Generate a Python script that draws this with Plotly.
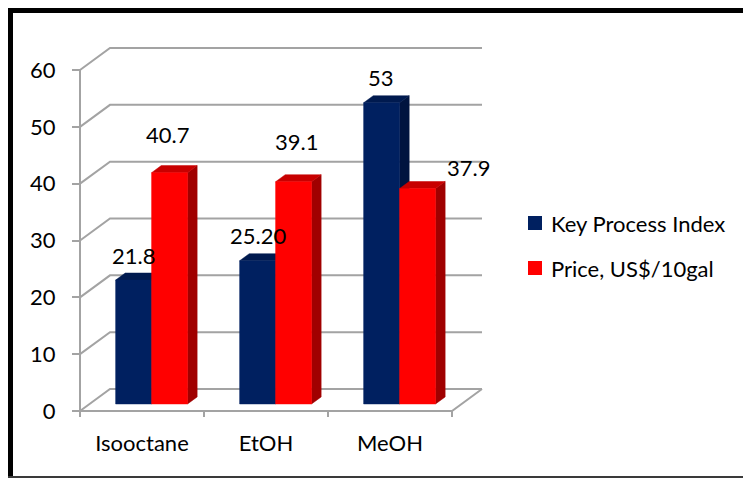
import plotly.graph_objects as go

# ---------------- data ----------------
categories = ["Isooctane", "EtOH", "MeOH"]
series_names = ["Key Process Index", "Price, US$/10gal"]
key_process_index = [21.8, 25.2, 53]
price = [40.7, 39.1, 37.9]
kpi_labels = ["21.8", "25.20", "53"]
price_labels = ["40.7", "39.1", "37.9"]
y_ticks = [0, 10, 20, 30, 40, 50, 60]

# ---------------- styles / layout ----------------
W, H = 743, 479
FONT = "Lato"
FS = 22
GRID = "#A3A3A3"
front_cols = ["#002060", "#FF0000"]
top_cols = ["#001A4F", "#C80000"]
side_cols = ["#00143F", "#A00000"]

PX_L, PX_R, PX_T, PX_B = 40, 500, 30, 430   # plot area in pixels
X0_PX, XUNIT = 80, 124                      # front plane: category 0 at x=80px, 124 px per category
Y0_PX, YUNIT = 411, 5.683                   # front plane: value 0 at y=411px
x_range = [(PX_L - X0_PX) / XUNIT, (PX_R - X0_PX) / XUNIT]
y_range = [(Y0_PX - PX_B) / YUNIT, (Y0_PX - PX_T) / YUNIT]

DX = 30 / XUNIT          # full wall depth (x component, data units)
DY = 22 / YUNIT          # full wall depth (y component, data units)
F1, F2 = 0.32, 0.64      # bar front / back depth fractions
BAR_W = 0.29
N = len(categories)
YMAX = y_ticks[-1]

fig = go.Figure()

# ---- walls / grid ----
gx, gy = [], []
for t in y_ticks:
    gx += [0, DX, N + DX, None]
    gy += [t, t + DY, t + DY, None]
gx += [0, 0, None, 0, N, N + DX, None]
gy += [0, YMAX, None, 0, 0, DY, None]
tick_len = 6 / YUNIT
for i in range(N + 1):
    gx += [i, i, None]
    gy += [0, -tick_len, None]
fig.add_trace(go.Scatter(x=gx, y=gy, mode="lines", line=dict(color=GRID, width=2),
                         hoverinfo="skip", showlegend=False))

# ---- 3D bars ----
b1, b2 = F1 * DY, F2 * DY
ddx = (F2 - F1) * DX
for s, vals in enumerate([key_process_index, price]):
    sx, sy, tx, ty, fx, fy = [], [], [], [], [], []
    for i, v in enumerate(vals):
        xl = i + 0.5 - BAR_W + s * BAR_W + F1 * DX
        xr = xl + BAR_W
        top = v + b1
        sx += [xr, xr, xr + ddx, xr + ddx, xr, None]
        sy += [b1, top, v + b2, b2, b1, None]
        tx += [xl, xr, xr + ddx, xl + ddx, xl, None]
        ty += [top, top, v + b2, v + b2, top, None]
        fx += [xl, xr, xr, xl, xl, None]
        fy += [b1, b1, top, top, b1, None]
    for px_, py_, c in [(sx, sy, side_cols[s]), (tx, ty, top_cols[s]), (fx, fy, front_cols[s])]:
        fig.add_trace(go.Scatter(x=px_, y=py_, mode="lines", fill="toself", fillcolor=c,
                                 line=dict(color=c, width=0.5), hoverinfo="skip",
                                 showlegend=False, name=series_names[s]))

# ---- data labels ----
label_dx = [[0, 0, -1], [-2, 3, 51]]
label_dy = [[25, 25, 25], [38, 40, 21]]
annotations = []
for s, (vals, labs) in enumerate([(key_process_index, kpi_labels), (price, price_labels)]):
    for i, (v, lab) in enumerate(zip(vals, labs)):
        xc = i + 0.5 - BAR_W / 2 + s * BAR_W + F1 * DX
        annotations.append(dict(x=xc, y=v + b1, xref="x", yref="y", text=lab, showarrow=False,
                                xanchor="center", yanchor="middle",
                                xshift=label_dx[s][i], yshift=label_dy[s][i],
                                font=dict(family=FONT, size=FS, color="black")))

# ---- legend (manual) ----
shapes = []
leg_y = [223, 268]
for s, name in enumerate(series_names):
    yc = leg_y[s]
    shapes.append(dict(type="rect", xref="paper", yref="paper",
                       x0=528 / W, x1=542 / W, y0=1 - (yc + 7) / H, y1=1 - (yc - 7) / H,
                       fillcolor=front_cols[s], line=dict(width=0)))
    annotations.append(dict(x=549 / W, y=1 - yc / H, xref="paper", yref="paper", text=name,
                            showarrow=False, xanchor="left", yanchor="middle",
                            font=dict(family=FONT, size=FS, color="black")))

# ---- frame ----
shapes += [
    dict(type="rect", xref="paper", yref="paper", x0=8 / W, x1=13 / W, y0=1 - 478 / H, y1=1 - 8 / H,
         fillcolor="black", line=dict(width=0)),
    dict(type="rect", xref="paper", yref="paper", x0=8 / W, x1=1, y0=1 - 13 / H, y1=1 - 8 / H,
         fillcolor="black", line=dict(width=0)),
    dict(type="line", xref="paper", yref="paper", x0=8 / W, x1=1, y0=1 - 477 / H, y1=1 - 477 / H,
         line=dict(color="#3A3A3A", width=2)),
]

fig.update_layout(
    width=W, height=H, margin=dict(l=0, r=0, t=0, b=0),
    paper_bgcolor="white", plot_bgcolor="white", showlegend=False,
    font=dict(family=FONT, size=FS, color="black"),
    xaxis=dict(domain=[PX_L / W, PX_R / W], range=x_range, anchor="free",
               position=1 - Y0_PX / H, showgrid=False, zeroline=False, showline=False,
               tickvals=[i + 0.5 for i in range(N)], ticktext=categories, ticks="",
               ticklabelstandoff=17, automargin=False,
               tickfont=dict(family=FONT, size=FS, color="black")),
    yaxis=dict(domain=[1 - PX_B / H, 1 - PX_T / H], range=y_range, anchor="free",
               position=X0_PX / W, showgrid=False, zeroline=False, showline=False,
               tickvals=y_ticks, ticks="outside", ticklen=8, tickwidth=2, tickcolor=GRID,
               ticklabelstandoff=12, automargin=False,
               tickfont=dict(family=FONT, size=FS, color="black")),
    shapes=shapes, annotations=annotations,
)

fig.write_html("out.html")
